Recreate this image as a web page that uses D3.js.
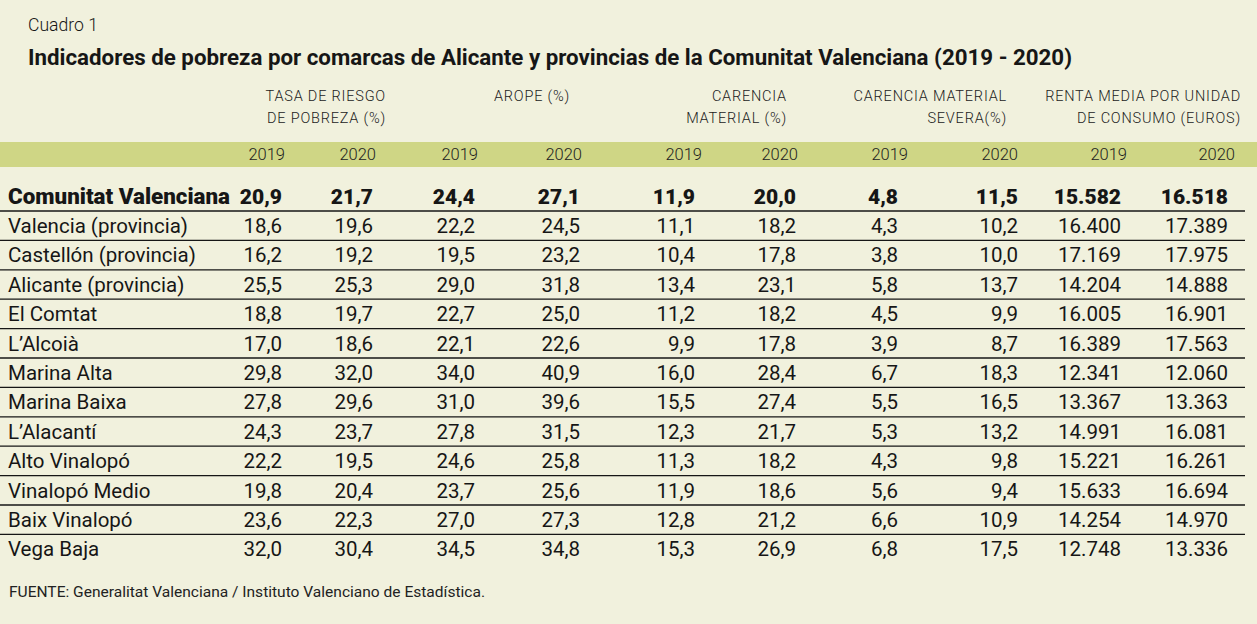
<!DOCTYPE html>
<html>
<head>
<meta charset="utf-8">
<script src="https://cdn.jsdelivr.net/npm/d3@7"></script>
<style>
  html, body { margin: 0; padding: 0; background: #f1f1dd; }
  svg { display: block; }
</style>
</head>
<body>
<svg id="chart" width="1257" height="624"></svg>
<script>
// ---------- DATA ----------
const cuadro = "Cuadro 1";
const title = "Indicadores de pobreza por comarcas de Alicante y provincias de la Comunitat Valenciana (2019 - 2020)";
const source = "FUENTE: Generalitat Valenciana / Instituto Valenciano de Estadística.";

const rowLabels = [
  "Comunitat Valenciana", "Valencia (provincia)", "Castellón (provincia)", "Alicante (provincia)",
  "El Comtat", "L’Alcoià", "Marina Alta", "Marina Baixa", "L’Alacantí",
  "Alto Vinalopó", "Vinalopó Medio", "Baix Vinalopó", "Vega Baja"
];
const years = ["2019", "2020"];
const groupHeaders = [
  ["TASA DE RIESGO", "DE POBREZA (%)"],
  ["AROPE (%)"],
  ["CARENCIA", "MATERIAL (%)"],
  ["CARENCIA MATERIAL", "SEVERA(%)"],
  ["RENTA MEDIA POR UNIDAD", "DE CONSUMO (EUROS)"]
];

const tasa2019   = [20.9, 18.6, 16.2, 25.5, 18.8, 17.0, 29.8, 27.8, 24.3, 22.2, 19.8, 23.6, 32.0];
const tasa2020   = [21.7, 19.6, 19.2, 25.3, 19.7, 18.6, 32.0, 29.6, 23.7, 19.5, 20.4, 22.3, 30.4];
const arope2019  = [24.4, 22.2, 19.5, 29.0, 22.7, 22.1, 34.0, 31.0, 27.8, 24.6, 23.7, 27.0, 34.5];
const arope2020  = [27.1, 24.5, 23.2, 31.8, 25.0, 22.6, 40.9, 39.6, 31.5, 25.8, 25.6, 27.3, 34.8];
const carMat2019 = [11.9, 11.1, 10.4, 13.4, 11.2, 9.9, 16.0, 15.5, 12.3, 11.3, 11.9, 12.8, 15.3];
const carMat2020 = [20.0, 18.2, 17.8, 23.1, 18.2, 17.8, 28.4, 27.4, 21.7, 18.2, 18.6, 21.2, 26.9];
const carSev2019 = [4.8, 4.3, 3.8, 5.8, 4.5, 3.9, 6.7, 5.5, 5.3, 4.3, 5.6, 6.6, 6.8];
const carSev2020 = [11.5, 10.2, 10.0, 13.7, 9.9, 8.7, 18.3, 16.5, 13.2, 9.8, 9.4, 10.9, 17.5];
const renta2019  = [15582, 16400, 17169, 14204, 16005, 16389, 12341, 13367, 14991, 15221, 15633, 14254, 12748];
const renta2020  = [16518, 17389, 17975, 14888, 16901, 17563, 12060, 13363, 16081, 16261, 16694, 14970, 13336];

const series = [tasa2019, tasa2020, arope2019, arope2020, carMat2019, carMat2020, carSev2019, carSev2020, renta2019, renta2020];

// ---------- LAYOUT ----------
const W = 1257, H = 624;
const bg = "#f1f1dd", band = "#cfd685", ink = "#161616";
const font = "Roboto, 'Liberation Sans', sans-serif";

const locale = d3.formatLocale({ decimal: ",", thousands: ".", grouping: [3], currency: ["", "€"] });
const fmtPct = locale.format(".1f");
const fmtEur = locale.format(",.0f");

const colIdx = d3.range(series.length);
const xValue = d3.scaleOrdinal().domain(colIdx).range([282, 373, 475, 580, 695, 796, 898, 1018, 1121, 1228]);
const xYear  = d3.scaleOrdinal().domain(colIdx).range([285, 376, 478, 582, 702, 798, 908, 1018, 1127, 1235]);
const xGroup = d3.scaleOrdinal().domain(d3.range(groupHeaders.length)).range([386, 570, 787, 1007, 1241]);

const bodyRows = rowLabels.slice(1);
const y = d3.scaleBand().domain(bodyRows).range([211, 211 + 29.4 * bodyRows.length]).padding(0);

const svg = d3.select("#chart");
svg.append("rect").attr("width", W).attr("height", H).attr("fill", bg);

// titles
svg.append("text").attr("x", 28).attr("y", 31).text(cuadro)
  .attr("font-family", font).attr("font-weight", 300).attr("font-size", 18).attr("fill", ink)
  .attr("textLength", 70).attr("lengthAdjust", "spacingAndGlyphs");
svg.append("text").attr("x", 28).attr("y", 65).text(title)
  .attr("font-family", font).attr("font-weight", 700).attr("font-size", 22).attr("fill", ink)
  .attr("textLength", 1044).attr("lengthAdjust", "spacingAndGlyphs");

// group headers
const gh = svg.append("g").attr("font-family", font).attr("font-weight", 300)
  .attr("font-size", 14.5).attr("fill", "#222").attr("text-anchor", "end");
groupHeaders.forEach((lines, i) => {
  lines.forEach((ln, j) => {
    gh.append("text").attr("x", xGroup(i)).attr("y", 101 + j * 22)
      .attr("letter-spacing", 0.8).text(ln);
  });
});

// band with years
svg.append("rect").attr("x", 0).attr("y", 142).attr("width", W).attr("height", 25).attr("fill", band);
svg.append("g").selectAll("text").data(colIdx).join("text")
  .attr("x", d => xYear(d)).attr("y", 160).attr("text-anchor", "end")
  .attr("font-family", font).attr("font-weight", 300).attr("font-size", 16.5).attr("fill", "#222")
  .text(d => years[d % 2]);

// row separator lines
svg.append("g").selectAll("line").data(bodyRows).join("line")
  .attr("x1", 0).attr("x2", 1245)
  .attr("y1", d => y(d)).attr("y2", d => y(d))
  .attr("stroke", ink).attr("stroke-width", 1.3);

const fmt = (ci, v) => ci >= 8 ? fmtEur(v) : fmtPct(v);

// main row (bold)
const main = svg.append("g").attr("font-family", font).attr("font-weight", 900)
  .attr("font-size", 21.5).attr("fill", ink);
main.append("text").attr("x", 8).attr("y", 204).text(rowLabels[0])
  .attr("textLength", 222).attr("lengthAdjust", "spacingAndGlyphs");
main.selectAll("text.v").data(colIdx).join("text").attr("class", "v")
  .attr("x", d => xValue(d)).attr("y", 204).attr("text-anchor", "end")
  .attr("font-size", 21)
  .text(d => fmt(d, series[d][0]));

// body rows
const rows = svg.append("g").attr("font-family", font).attr("font-weight", 400)
  .attr("font-size", 20.5).attr("fill", ink)
  .selectAll("g").data(bodyRows).join("g")
  .attr("transform", d => `translate(0,${y(d) + 22})`);
rows.append("text").attr("x", 8).text(d => d);
rows.each(function (label) {
  const ri = rowLabels.indexOf(label);
  d3.select(this).selectAll("text.v").data(colIdx).join("text").attr("class", "v")
    .attr("x", d => xValue(d)).attr("text-anchor", "end")
    .text(d => fmt(d, series[d][ri]));
});

// source
svg.append("text").attr("x", 9).attr("y", 597).text(source)
  .attr("font-family", font).attr("font-weight", 400).attr("font-size", 14).attr("fill", "#222")
  .attr("textLength", 476).attr("lengthAdjust", "spacingAndGlyphs");
</script>
</body>
</html>
